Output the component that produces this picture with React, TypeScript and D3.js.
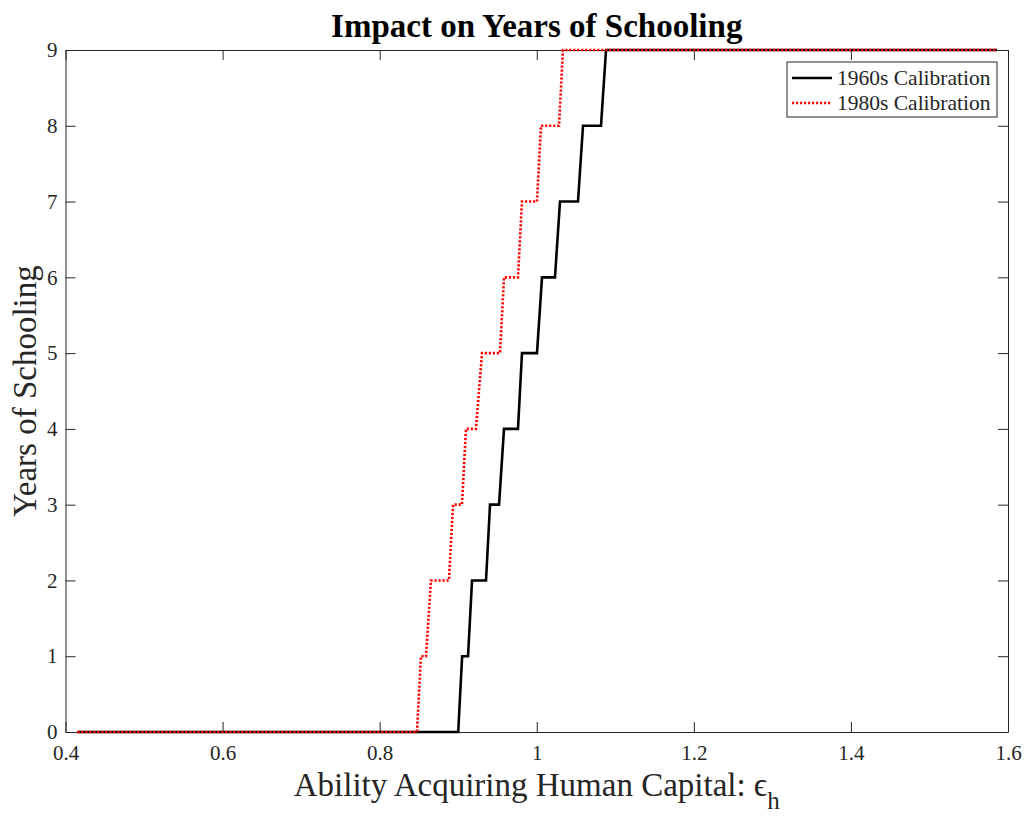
import { useEffect, useRef } from 'react'
import * as d3 from 'd3'

// 1960s calibration (solid black)
const x1960 = [0.415, 0.900, 0.905, 0.9125, 0.9176, 0.9354, 0.9405, 0.952, 0.9583, 0.9761, 0.9812, 1.0003, 1.0067, 1.0232, 1.0296, 1.0525, 1.0589, 1.0818, 1.0882, 1.586]
const y1960 = [0, 0, 1, 1, 2, 2, 3, 3, 4, 4, 5, 5, 6, 6, 7, 7, 8, 8, 9, 9]

// 1980s calibration (dotted red)
const x1980 = [0.415, 0.8475, 0.8526, 0.859, 0.8653, 0.8882, 0.8934, 0.9048, 0.9099, 0.9226, 0.9303, 0.9532, 0.9583, 0.9761, 0.9812, 1.0003, 1.0054, 1.0283, 1.0334, 1.586]
const y1980 = [0, 0, 1, 1, 2, 2, 3, 3, 4, 4, 5, 5, 6, 6, 7, 7, 8, 8, 9, 9]

const xTicks = [0.4, 0.6, 0.8, 1, 1.2, 1.4, 1.6]
const yTicks = [0, 1, 2, 3, 4, 5, 6, 7, 8, 9]
const seriesNames = ['1960s Calibration', '1980s Calibration']

export default function App() {
  const svgRef = useRef<SVGSVGElement>(null)

  useEffect(() => {
    if (!svgRef.current) return
    const margin = { top: 50, right: 19, bottom: 85, left: 65.5 }
    const W = 1027
    const H = 817
    const width = W - margin.left - margin.right
    const height = H - margin.top - margin.bottom
    const font = '"Liberation Serif", "Times New Roman", serif'
    const axisColor = '#262626'

    const root = d3.select(svgRef.current)
    root.selectAll('*').remove()
    const svg = root.append('g').attr('transform', `translate(${margin.left},${margin.top})`)

    const x = d3.scaleLinear().domain([0.4, 1.6]).range([0, width])
    const y = d3.scaleLinear().domain([0, 9]).range([height, 0])

    const styleAxis = (g: any) => {
      g.select('.domain').attr('stroke', axisColor).attr('stroke-width', 1)
      g.selectAll('line').attr('stroke', axisColor).attr('stroke-width', 1)
      g.selectAll('text').attr('fill', axisColor).attr('font-size', '21px').attr('font-family', font)
    }

    svg.append('g')
      .attr('transform', `translate(0,${height})`)
      .call(d3.axisBottom(x).tickValues(xTicks).tickSizeInner(-10).tickSizeOuter(0).tickPadding(13).tickFormat(d => String(+d)))
      .call(styleAxis)
    svg.append('g')
      .call(d3.axisTop(x).tickValues(xTicks).tickSizeInner(-10).tickSizeOuter(0).tickFormat(() => ''))
      .call(styleAxis)
    svg.append('g')
      .call(d3.axisLeft(y).tickValues(yTicks).tickSizeInner(-10).tickSizeOuter(0).tickPadding(8).tickFormat(d => String(d)))
      .call(styleAxis)
    svg.append('g')
      .attr('transform', `translate(${width},0)`)
      .call(d3.axisRight(y).tickValues(yTicks).tickSizeInner(-10).tickSizeOuter(0).tickFormat(() => ''))
      .call(styleAxis)

    const stepLine = d3.line<[number, number]>().x(d => x(d[0])).y(d => y(d[1]))

    svg.append('path')
      .datum(x1960.map((v, i) => [v, y1960[i]] as [number, number]))
      .attr('fill', 'none')
      .attr('stroke', '#000')
      .attr('stroke-width', 2.6)
      .attr('d', stepLine)

    svg.append('path')
      .datum(x1980.map((v, i) => [v, y1980[i]] as [number, number]))
      .attr('fill', 'none')
      .attr('stroke', '#ff0000')
      .attr('stroke-width', 2.6)
      .attr('stroke-dasharray', '2.2,1.8')
      .attr('d', stepLine)

    // legend
    const lg = svg.append('g').attr('transform', `translate(${width - 221},12)`)
    lg.append('rect')
      .attr('width', 210).attr('height', 55)
      .attr('fill', '#fff').attr('stroke', axisColor).attr('stroke-width', 1)
    seriesNames.forEach((name, i) => {
      const cy = 16 + i * 25
      lg.append('line')
        .attr('x1', 5).attr('x2', 45).attr('y1', cy).attr('y2', cy)
        .attr('stroke', i === 0 ? '#000' : '#ff0000')
        .attr('stroke-width', 2.6)
        .attr('stroke-dasharray', i === 0 ? null : '2.2,1.8')
      lg.append('text')
        .attr('x', 50).attr('y', cy + 7)
        .attr('font-family', font).attr('font-size', '21.5px').attr('fill', axisColor)
        .text(name)
    })

    // titles
    root.append('text')
      .attr('x', margin.left + width / 2).attr('y', 37)
      .attr('text-anchor', 'middle')
      .attr('font-family', font).attr('font-weight', 'bold').attr('font-size', '33px')
      .attr('fill', '#000')
      .text('Impact on Years of Schooling')

    root.append('text')
      .attr('transform', `translate(36,${margin.top + height / 2}) rotate(-90)`)
      .attr('text-anchor', 'middle')
      .attr('font-family', font).attr('font-size', '33px')
      .attr('fill', axisColor)
      .text('Years of Schooling')

    const xl = root.append('text')
      .attr('x', margin.left + width / 2).attr('y', 796)
      .attr('text-anchor', 'middle')
      .attr('font-family', font).attr('font-size', '33px')
      .attr('fill', axisColor)
    xl.append('tspan').text('Ability Acquiring Human Capital: \u03F5')
    xl.append('tspan').attr('font-size', '25px').attr('dy', 13).text('h')
  }, [])

  return (
    <svg ref={svgRef} width={1027} height={817}
      style={{ position: 'absolute', left: 0, top: 0, background: '#fff' }} />
  )
}
